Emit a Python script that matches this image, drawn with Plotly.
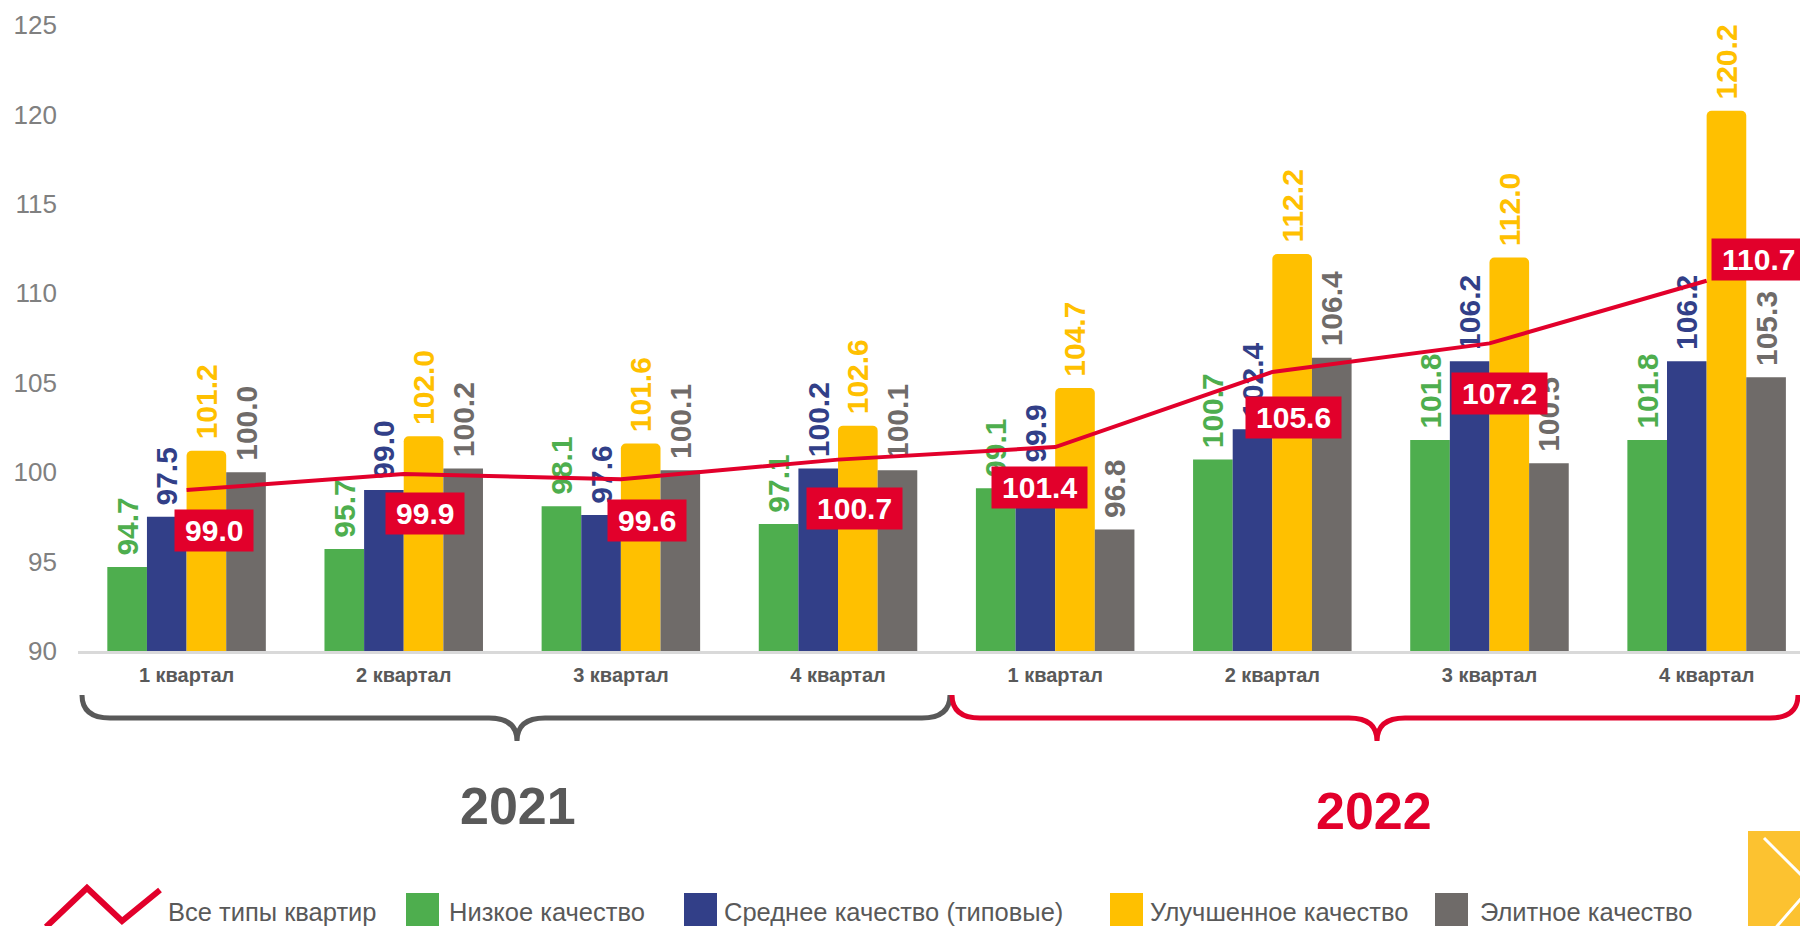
import plotly.graph_objects as go

# quarters (two years), values are % to previous year
quarters = ['1 квартал', '2 квартал', '3 квартал', '4 квартал',
            '1 квартал', '2 квартал', '3 квартал', '4 квартал']
years = ['2021', '2022']
all_types = [99.0, 99.9, 99.6, 100.7, 101.4, 105.6, 107.2, 110.7]
low_q = [94.7, 95.7, 98.1, 97.1, 99.1, 100.7, 101.8, 101.8]
mid_q = [97.5, 99.0, 97.6, 100.2, 99.9, 102.4, 106.2, 106.2]
improved_q = [101.2, 102.0, 101.6, 102.6, 104.7, 112.2, 112.0, 120.2]
elite_q = [100.0, 100.2, 100.1, 100.1, 96.8, 106.4, 100.5, 105.3]
y_ticks = [90, 95, 100, 105, 110, 115, 120, 125]

names = ['Все типы квартир', 'Низкое качество', 'Среднее качество (типовые)',
         'Улучшенное качество', 'Элитное качество']

W, H = 1800, 926
RED = '#E2002B'
GREEN = '#4EAE4E'
BLUE = '#323F88'
YELLOW = '#FFC000'
GREY = '#6F6B69'
DARK = '#595959'
FONT = 'Liberation Sans, Arial, sans-serif'


def px(x):
    return x / W


def py(y):
    return 1 - y / H


def path(points_cmds):
    out = []
    for cmd in points_cmds:
        c = cmd[0]
        nums = cmd[1:]
        coords = []
        for i in range(0, len(nums), 2):
            coords.append('%.5f,%.5f' % (px(nums[i]), py(nums[i + 1])))
        out.append(c + ' ' + ' '.join(coords))
    return ' '.join(out)


def brace(x0, x1, xm, ytop, ymid, ytip, r):
    return path([
        ('M', x0, ytop),
        ('Q', x0, ymid, x0 + r, ymid),
        ('L', xm - r, ymid),
        ('Q', xm, ymid, xm, ytip),
        ('Q', xm, ymid, xm + r, ymid),
        ('L', x1 - r, ymid),
        ('Q', x1, ymid, x1, ytop),
    ])


x = list(range(len(quarters)))
fig = go.Figure()

series = [(low_q, GREEN, names[1]), (mid_q, BLUE, names[2]),
          (improved_q, YELLOW, names[3]), (elite_q, GREY, names[4])]
for vals, col, nm in series:
    fig.add_trace(go.Bar(
        x=x, y=vals, name=nm,
        marker=dict(color=col, line=dict(width=0),
                    cornerradius=5 if col == YELLOW else 0),
        # leading nbsp keeps a small gap between bar top and rotated label
        text=['\u00a0%.1f' % v for v in vals],
        textposition='outside', textangle=-90,
        textfont=dict(family=FONT, size=30, color=col, weight='bold'),
        constraintext='none', cliponaxis=False,
    ))

fig.add_trace(go.Scatter(
    x=x, y=all_types, name=names[0], mode='lines',
    line=dict(color=RED, width=4), cliponaxis=False,
))

# red value boxes for the line
label_shift = [(27, -40), (21, -40), (26, -41), (16, -49),
               (-16, -40), (21, -46), (10, -50), (52, 21)]
annotations = []
for i, v in enumerate(all_types):
    dx, dy = label_shift[i]
    annotations.append(dict(
        x=i, y=v, xref='x', yref='y', text='<b>&#8201;%.1f&#8201;</b>' % v,
        showarrow=False, xshift=dx, yshift=dy,
        bgcolor=RED, borderpad=4,
        font=dict(family=FONT, size=30, color='white'),
    ))

# year labels under the braces
annotations.append(dict(x=px(518), y=py(806), xref='paper', yref='paper',
                        xanchor='center', yanchor='middle',
                        text='<b>%s</b>' % years[0], showarrow=False,
                        font=dict(family=FONT, size=52, color=DARK)))
annotations.append(dict(x=px(1374), y=py(811), xref='paper', yref='paper',
                        xanchor='center', yanchor='middle',
                        text='<b>%s</b>' % years[1], showarrow=False,
                        font=dict(family=FONT, size=52, color=RED)))

shapes = [
    dict(type='path', xref='paper', yref='paper', layer='above',
         path=brace(82, 950, 517, 695, 718, 741, 28),
         line=dict(color=DARK, width=5)),
    dict(type='path', xref='paper', yref='paper', layer='above',
         path=brace(952, 1798, 1377, 695, 718, 741, 28),
         line=dict(color=RED, width=5)),
]

# legend drawn by hand (large icons)
shapes.append(dict(type='path', xref='paper', yref='paper',
                   path=path([('M', 46, 927), ('L', 87, 888), ('L', 122, 921), ('L', 160, 890)]),
                   line=dict(color=RED, width=6)))
annotations.append(dict(x=px(166), y=py(912), xref='paper', yref='paper',
                        xanchor='left', yanchor='middle', text=names[0], showarrow=False,
                        font=dict(family=FONT, size=25.5, color=DARK)))
legend_items = [(406, 447, GREEN, names[1]), (684, 722, BLUE, names[2]),
                (1110, 1148, YELLOW, names[3]), (1435, 1478, GREY, names[4])]
for sx, tx, col, nm in legend_items:
    shapes.append(dict(type='rect', xref='paper', yref='paper',
                       x0=px(sx), x1=px(sx + 33), y0=py(927), y1=py(893),
                       fillcolor=col, line=dict(width=0)))
    annotations.append(dict(x=px(tx), y=py(912), xref='paper', yref='paper',
                            xanchor='left', yanchor='middle', text=nm, showarrow=False,
                            font=dict(family=FONT, size=25.5, color=DARK)))

# yellow "next" button in the corner
shapes.append(dict(type='rect', xref='paper', yref='paper',
                   x0=px(1748), x1=px(1800), y0=py(926), y1=py(831),
                   fillcolor='#FCC230', line=dict(width=0)))
shapes.append(dict(type='path', xref='paper', yref='paper',
                   path=path([('M', 1764, 838), ('L', 1812, 886), ('L', 1772, 932)]),
                   line=dict(color='white', width=3)))

fig.update_layout(
    width=W, height=H,
    margin=dict(l=0, r=0, t=0, b=0, autoexpand=False),
    paper_bgcolor='white', plot_bgcolor='white',
    barmode='group', bargap=0.27, bargroupgap=0,
    showlegend=False,
    annotations=annotations, shapes=shapes,
    xaxis=dict(domain=[px(78), 1], range=[-0.5, 7.43], automargin=False,
               tickvals=x, ticktext=quarters, showgrid=False, zeroline=False,
               showline=True, linecolor='#D9D9D9', linewidth=3,
               ticks='', ticklabelstandoff=4,
               tickfont=dict(family=FONT, size=20, color=DARK, weight='bold')),
    yaxis=dict(domain=[py(651), py(25)], range=[90, 125], automargin=False,
               tickvals=y_ticks, showgrid=False, zeroline=False, showline=False,
               ticks='', ticklabelstandoff=20,
               tickfont=dict(family=FONT, size=26, color='#808080')),
)

fig.write_html('out.html', config={'displayModeBar': False},
               post_script="document.body.style.margin='0';")
